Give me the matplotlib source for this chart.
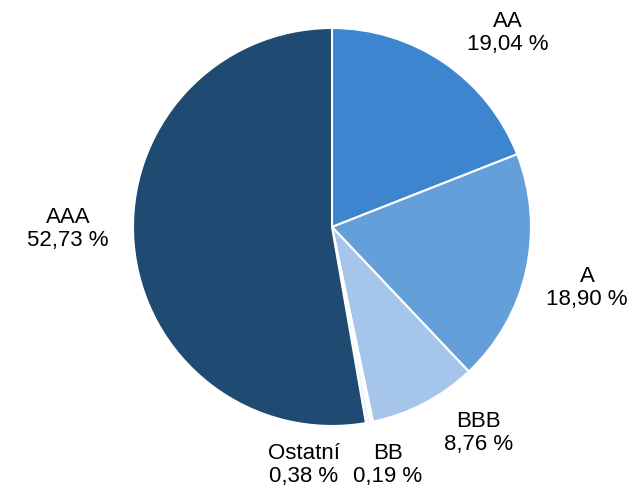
import matplotlib
matplotlib.use("Agg")
import matplotlib.pyplot as plt
import numpy as np

labels = ["AA", "A", "BBB", "BB", "Ostatní", "AAA"]
values = [19.04, 18.90, 8.76, 0.19, 0.38, 52.73]
value_text = ["19,04 %", "18,90 %", "8,76 %", "0,19 %", "0,38 %", "52,73 %"]
colors = ["#3D85CF", "#649FDA", "#A5C6EA", "#C9DDF3", "#EEF3FA", "#1F4A72"]
# label positions relative to pie (radius units)
label_pos = [(0.882, 0.975), (1.281, -0.307), (0.734, -1.035),
             (0.281, -1.196), (-0.141, -1.196), (-1.327, -0.01)]

plt.rcParams['font.family'] = ['Liberation Sans', 'DejaVu Sans']
fig = plt.figure(figsize=(6.37, 4.94), dpi=100)
ax = fig.add_axes([0, 0, 1, 1])
ax.pie(values, colors=colors, startangle=90, counterclock=False,
       radius=1.0, wedgeprops=dict(edgecolor="white", linewidth=1.5))
ax.set_aspect("equal")
ax.set_xlim(-332/199, (637-332)/199)
ax.set_ylim(-(494-227)/199, 227/199)
ax.axis("off")
for lab, vt, (x, y) in zip(labels, value_text, label_pos):
    ax.text(x, y, f"{lab}\n{vt}", ha="center", va="center", fontsize=16,
            linespacing=1.15, color="#000000")
fig.savefig("out.png", dpi=100)
